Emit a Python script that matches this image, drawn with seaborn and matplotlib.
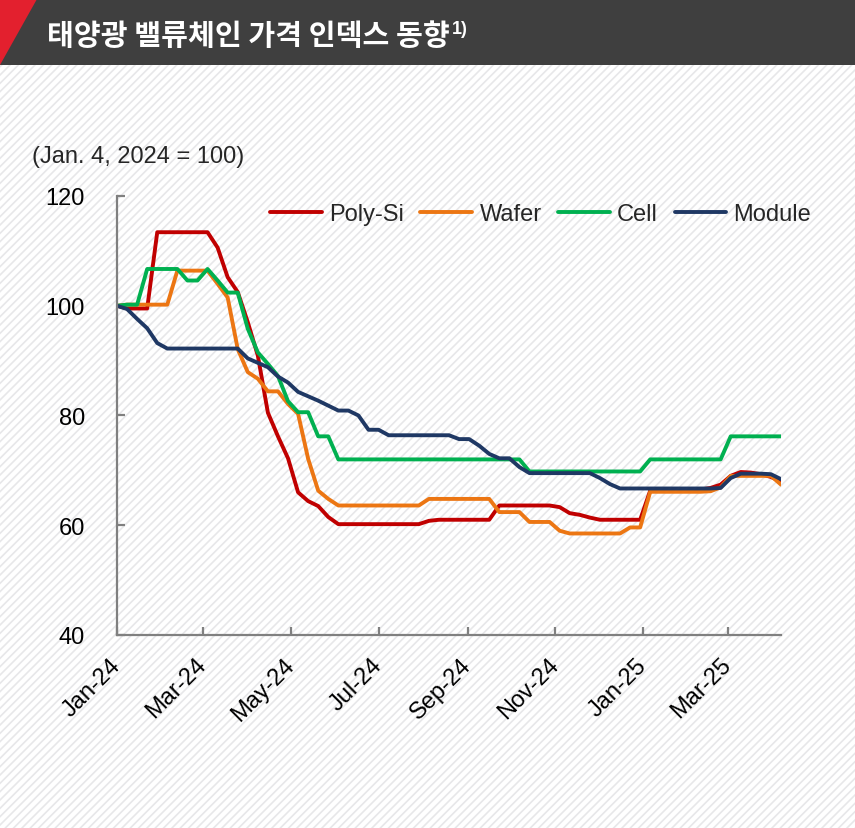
import numpy as np
import pandas as pd
import matplotlib
matplotlib.use("Agg")
import matplotlib.pyplot as plt
import matplotlib.dates as mdates
from matplotlib.patches import Rectangle, Polygon
import seaborn as sns

# ---------------- data ----------------
dates = pd.date_range("2024-01-01", periods=67, freq="7D")
series_names = ["Poly-Si", "Wafer", "Cell", "Module"]

poly_si = [100, 99.5, 99.5, 99.5, 113.4, 113.4, 113.4, 113.4, 113.4, 113.4,
           110.6, 105.2, 102.5, 97.0, 90.9, 80.5, 76.2, 72.2, 66.0, 64.4,
           63.5, 61.5, 60.2, 60.2, 60.2, 60.2, 60.2, 60.2, 60.2, 60.2,
           60.2, 60.8, 61.0, 61.0, 61.0, 61.0, 61.0, 61.0, 63.6, 63.6,
           63.6, 63.6, 63.6, 63.6, 63.3, 62.2, 61.9, 61.4, 61.0, 61.0,
           61.0, 61.0, 61.0, 66.3, 66.5, 66.5, 66.5, 66.5, 66.5, 66.8,
           67.4, 69.0, 69.7, 69.6, 69.3, 68.8, 68.0]

wafer = [100, 100.2, 100.2, 100.2, 100.2, 100.2, 106.4, 106.4, 106.4, 106.4,
         104.0, 101.5, 92.1, 87.9, 86.7, 84.4, 84.4, 82.1, 80.3, 72.1,
         66.3, 64.8, 63.6, 63.6, 63.6, 63.6, 63.6, 63.6, 63.6, 63.6,
         63.6, 64.8, 64.8, 64.8, 64.8, 64.8, 64.8, 64.8, 62.4, 62.4,
         62.4, 60.6, 60.6, 60.6, 59.0, 58.5, 58.5, 58.5, 58.5, 58.5,
         58.5, 59.6, 59.6, 66.1, 66.1, 66.1, 66.1, 66.1, 66.1, 66.2,
         66.9, 69.0, 69.0, 69.0, 69.0, 69.0, 67.4]

cell = [100, 100.2, 100.2, 106.7, 106.7, 106.7, 106.7, 104.6, 104.6, 106.7,
        104.6, 102.4, 102.4, 95.8, 91.5, 89.4, 87.2, 82.6, 80.6, 80.6,
        76.2, 76.2, 72.0, 72.0, 72.0, 72.0, 72.0, 72.0, 72.0, 72.0,
        72.0, 72.0, 72.0, 72.0, 72.0, 72.0, 72.0, 72.0, 72.0, 72.0,
        72.0, 69.8, 69.8, 69.8, 69.8, 69.8, 69.8, 69.8, 69.8, 69.8,
        69.8, 69.8, 69.8, 72.0, 72.0, 72.0, 72.0, 72.0, 72.0, 72.0,
        72.0, 76.2, 76.2, 76.2, 76.2, 76.2, 76.2]

module = [100, 99.4, 97.6, 95.9, 93.2, 92.2, 92.2, 92.2, 92.2, 92.2,
          92.2, 92.2, 92.2, 90.4, 89.6, 88.8, 87.1, 86.0, 84.3, 83.5,
          82.7, 81.8, 80.9, 80.9, 80.0, 77.4, 77.4, 76.4, 76.4, 76.4,
          76.4, 76.4, 76.4, 76.4, 75.7, 75.7, 74.5, 73.0, 72.2, 72.2,
          70.6, 69.5, 69.5, 69.5, 69.5, 69.5, 69.5, 69.5, 68.6, 67.5,
          66.7, 66.7, 66.7, 66.7, 66.7, 66.7, 66.7, 66.7, 66.7, 66.7,
          66.8, 68.6, 69.4, 69.4, 69.4, 69.3, 68.4]

y_ticks = [40, 60, 80, 100, 120]
title = "태양광 밸류체인 가격 인덱스 동향"
title_note = "1)"
unit_text = "(Jan. 4, 2024 = 100)"

colors = ["#C00000", "#EC7613", "#00B050", "#1F3864"]

df = pd.DataFrame({
    "date": np.tile(dates, 4),
    "value": poly_si + wafer + cell + module,
    "series": np.repeat(series_names, len(dates)),
})

# ---------------- style ----------------
sns.set_style("ticks")
plt.rcParams["font.family"] = ["Liberation Sans", "DejaVu Sans"]
plt.rcParams["hatch.linewidth"] = 1.2

W, H = 855, 829
fig = plt.figure(figsize=(W / 100, H / 100), dpi=100)
fig.patch.set_facecolor("white")

# hatched background
bg = Rectangle((0, 0), 1, 1, transform=fig.transFigure, facecolor="white",
               edgecolor="#e7e7e9", hatch="////", lw=0, zorder=-10)
fig.add_artist(bg)

# header bar
hdr = Rectangle((0, 1 - 66 / H), 1, 66 / H, transform=fig.transFigure,
                facecolor="#3f3f3f", edgecolor="none", zorder=-5)
fig.add_artist(hdr)
tri = Polygon([(0, 1), (37 / W, 1), (0, 1 - 66 / H)], closed=True,
              transform=fig.transFigure, facecolor="#E3202E", edgecolor="none", zorder=-4)
fig.add_artist(tri)

cjk = ["Noto Sans CJK KR", "DejaVu Sans"]
t = fig.text(47 / W, 1 - 36 / H, title, color="white", fontsize=21,
             fontweight="bold", family=cjk, ha="left", va="center")

fig.text(32 / W, 1 - 157 / H, unit_text, fontsize=17, ha="left", va="center")

# ---------------- axes ----------------
ax = fig.add_axes([117 / W, 1 - 636 / H, 664 / W, 439 / H])
ax.set_facecolor("none")

sns.lineplot(data=df, x="date", y="value", hue="series", hue_order=series_names,
             palette=dict(zip(series_names, colors)), linewidth=2.8,
             estimator=None, sort=False, ax=ax)

ax.set_xlim(pd.Timestamp("2024-01-01"), pd.Timestamp("2025-04-07"))
ax.set_ylim(40, 120)
ax.set_yticks(y_ticks)
ax.xaxis.set_major_locator(mdates.MonthLocator(bymonth=[1, 3, 5, 7, 9, 11]))
ax.xaxis.set_major_formatter(mdates.DateFormatter("%b-%y"))
ax.set_xlabel("")
ax.set_ylabel("")

for s in ["top", "right"]:
    ax.spines[s].set_visible(False)
for s in ["left", "bottom"]:
    ax.spines[s].set_color("#808080")
    ax.spines[s].set_linewidth(1.6)

ax.tick_params(axis="both", direction="in", length=6, width=1.6, color="#808080",
               labelsize=17, labelcolor="black")
ax.tick_params(axis="y", pad=23)
ax.tick_params(axis="x", pad=19)
for lbl in ax.get_xticklabels():
    lbl.set_rotation(45)
    lbl.set_ha("right")
    lbl.set_va("center")
    lbl.set_rotation_mode("anchor")

handles, labels = ax.get_legend_handles_labels()
leg = ax.legend(handles, labels, ncol=4, loc="center left",
                bbox_to_anchor=(270 / W, 1 - 215 / H), bbox_transform=fig.transFigure,
                frameon=False, fontsize=17, handlelength=2.2, handletextpad=0.3,
                columnspacing=0.7, borderpad=0, borderaxespad=0)
for ln in leg.get_lines():
    ln.set_linewidth(2.8)

# superscript note after title
fig.canvas.draw()
bb = t.get_window_extent()
fig.text(bb.x1 / W + 2 / W, 1 - 30 / H, title_note, color="white", fontsize=13,
         fontweight="bold", ha="left", va="center")

fig.savefig("out.png", dpi=100)
